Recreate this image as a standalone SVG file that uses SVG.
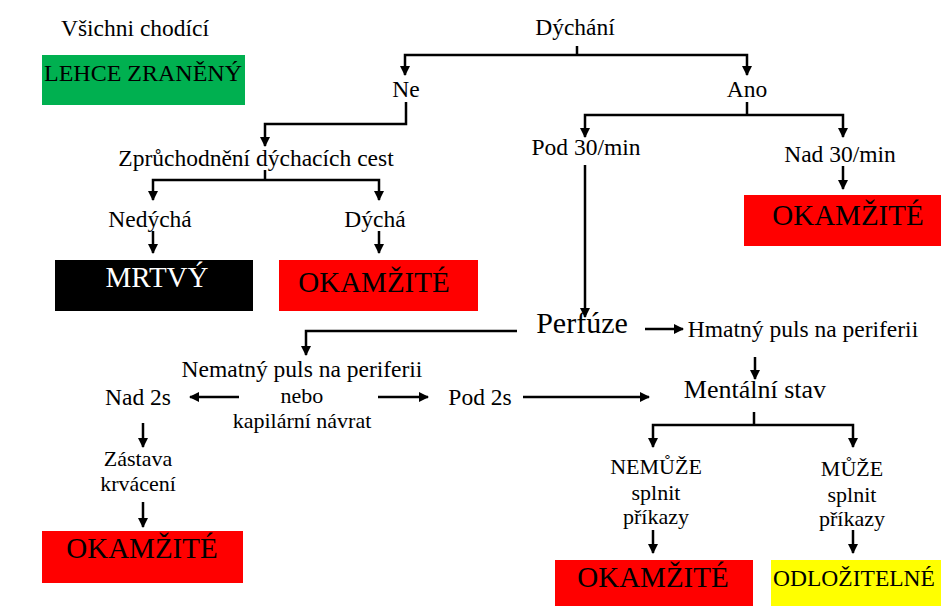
<svg xmlns="http://www.w3.org/2000/svg" width="941" height="606" viewBox="0 0 941 606" font-family="'Liberation Serif','DejaVu Serif',serif">
<style>
svg text{font-family:'Liberation Serif','DejaVu Serif',serif;fill:#000;text-anchor:middle}
svg .t{font-size:23.5px}
svg .s{font-size:22px}
svg .b{font-size:29px}
svg .w{fill:#fff}
.c path{fill:none;stroke:#000;stroke-width:2.5}
</style>
<defs>
<marker id="a" viewBox="0 0 10 10" refX="9" refY="5" markerWidth="4" markerHeight="4" orient="auto" markerUnits="strokeWidth">
<path d="M0,0 L10,5 L0,10 z" fill="#000"/>
</marker>
</defs>
<rect width="941" height="606" fill="#fff"/>
<g id="chodici"><text class="t" x="135" y="36">Všichni chodící</text></g>
<g id="lehce"><rect x="42" y="55" width="203" height="50" fill="#00b050"/><text class="t" x="143" y="81" style="font-size:24px">LEHCE ZRANĚNÝ</text></g>
<g id="dychani"><text class="t" x="575" y="35">Dýchání</text></g>
<g id="ne"><text class="t" x="406" y="97">Ne</text></g>
<g id="ano"><text class="t" x="747" y="97">Ano</text></g>
<g id="zpruchodneni"><text class="t" x="256" y="166">Zprůchodnění dýchacích cest</text></g>
<g id="nedycha"><text class="t" x="150" y="227">Nedýchá</text></g>
<g id="dycha"><text class="t" x="375" y="227">Dýchá</text></g>
<g id="mrtvy"><rect x="55" y="260" width="198" height="51" fill="#000"/><text class="b w" x="157" y="287">MRTVÝ</text></g>
<g id="okamzite1"><rect x="279" y="260" width="199" height="51" fill="#f00"/><text class="b" x="374" y="292">OKAMŽITÉ</text></g>
<g id="pod30"><text class="t" x="586" y="155">Pod 30/min</text></g>
<g id="nad30"><text class="t" x="840" y="162">Nad 30/min</text></g>
<g id="okamzite2"><rect x="744" y="195" width="197" height="51" fill="#f00"/><text class="b" x="848" y="225">OKAMŽITÉ</text></g>
<g id="perfuze"><text x="582" y="333" style="font-size:30px">Perfúze</text></g>
<g id="hmatny"><text class="t" x="803" y="337">Hmatný puls na periferii</text></g>
<g id="nematny"><text class="t" x="302" y="377">Nematný puls na periferii</text><text class="s" x="302" y="403">nebo</text><text class="s" x="302" y="428">kapilární návrat</text></g>
<g id="nad2s"><text class="t" x="138" y="405">Nad 2s</text></g>
<g id="pod2s"><text class="t" x="480" y="405">Pod 2s</text></g>
<g id="mentalni"><text class="b" x="755" y="398" style="font-size:26px">Mentální stav</text></g>
<g id="zastava"><text class="s" x="138" y="466">Zástava</text><text class="s" x="138" y="491">krvácení</text></g>
<g id="okamzite3"><rect x="42" y="531" width="201" height="52" fill="#f00"/><text class="b" x="142" y="558">OKAMŽITÉ</text></g>
<g id="nemuze"><text class="s" x="656" y="474">NEMŮŽE</text><text class="s" x="656" y="500">splnit</text><text class="s" x="656" y="524">příkazy</text></g>
<g id="muze"><text class="s" x="852" y="476">MŮŽE</text><text class="s" x="852" y="502">splnit</text><text class="s" x="852" y="526">příkazy</text></g>
<g id="okamzite4"><rect x="555" y="560" width="198" height="46" fill="#f00"/><text class="b" x="653" y="587">OKAMŽITÉ</text></g>
<g id="odlozitelne"><rect x="771" y="560" width="170" height="46" fill="#ff0"/><text class="t" x="854" y="586">ODLOŽITELNÉ</text></g>
<g id="connectors" class="c">
<path d="M577,46 V55"/>
<path d="M577,55 H405 V75" marker-end="url(#a)"/>
<path d="M577,55 H747 V75" marker-end="url(#a)"/>
<path d="M406,102 V124 H265 V146" marker-end="url(#a)"/>
<path d="M265,170 V180"/>
<path d="M265,180 H153 V200" marker-end="url(#a)"/>
<path d="M265,180 H379 V200" marker-end="url(#a)"/>
<path d="M153,231 V253" marker-end="url(#a)"/>
<path d="M379,231 V253" marker-end="url(#a)"/>
<path d="M747,102 V115"/>
<path d="M747,115 H585 V137" marker-end="url(#a)"/>
<path d="M747,115 H843 V137" marker-end="url(#a)"/>
<path d="M843,166 V189" marker-end="url(#a)"/>
<path d="M585,165 V317" marker-end="url(#a)"/>
<path d="M517,331 H306 V355" marker-end="url(#a)"/>
<path d="M645,329 H683" marker-end="url(#a)"/>
<path d="M755,357 V379" marker-end="url(#a)"/>
<path d="M239,397 H190" marker-end="url(#a)"/>
<path d="M378,397 H428" marker-end="url(#a)"/>
<path d="M523,397 H649" marker-end="url(#a)"/>
<path d="M143,423 V447" marker-end="url(#a)"/>
<path d="M143,502 V527" marker-end="url(#a)"/>
<path d="M754,412 V425"/>
<path d="M754,425 H653 V447" marker-end="url(#a)"/>
<path d="M754,425 H853 V447" marker-end="url(#a)"/>
<path d="M653,530 V553" marker-end="url(#a)"/>
<path d="M853,530 V553" marker-end="url(#a)"/>
</g>
</svg>
